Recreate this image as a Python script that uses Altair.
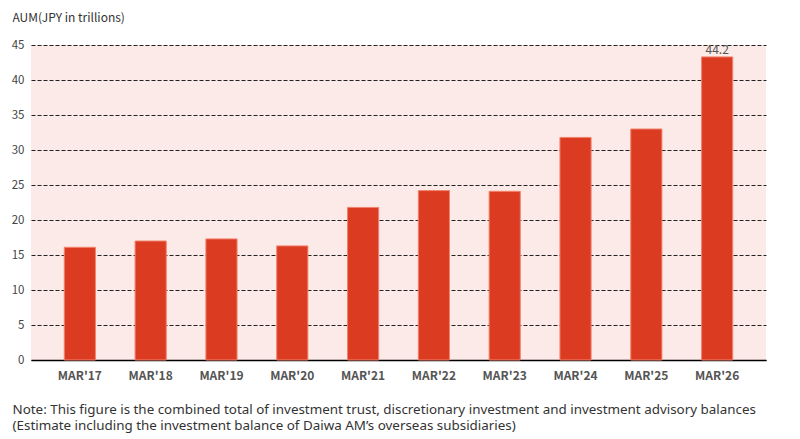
import altair as alt
import pandas as pd

categories = ["MAR'17", "MAR'18", "MAR'19", "MAR'20", "MAR'21", "MAR'22", "MAR'23", "MAR'24", "MAR'25", "MAR'26"]
values = [16.1, 17.0, 17.3, 16.3, 21.8, 24.2, 24.1, 31.8, 33.0, 43.3]
labels = ["", "", "", "", "", "", "", "", "", "44.2"]
y_ticks = [0, 5, 10, 15, 20, 25, 30, 35, 40, 45]

y_title = "AUM(JPY in trillions)"
footnote = [
    "Note: This figure is the combined total of investment trust, discretionary investment and investment advisory balances",
    "(Estimate including the investment balance of Daiwa AM\u2019s overseas subsidiaries)",
]

df = pd.DataFrame({"cat": categories, "value": values, "label": labels})

FONT = "Noto Sans CJK JP"
NOTE_FONT = "Noto Sans"

xscale = alt.Scale(paddingInner=0.56, paddingOuter=0.47)
yscale = alt.Scale(domain=[0, 45], nice=False)

x = alt.X(
    "cat:N",
    sort=categories,
    scale=xscale,
    axis=alt.Axis(
        title=footnote,
        titleFont=NOTE_FONT,
        titleFontSize=13.4,
        titleFontWeight="normal",
        titleColor="#333333",
        titleAnchor="start",
        titleAlign="left",
        titleBaseline="alphabetic",
        titleX=-19,
        titleY=53,
        titleLineHeight=16.5,
        labelFont=FONT,
        labelFontSize=12,
        labelFontWeight="bold",
        labelColor="#555555",
        labelAngle=0,
        labelPadding=10,
        ticks=False,
        domainColor="#000000",
        domainWidth=1.5,
        grid=False,
    ),
)

y = alt.Y(
    "value:Q",
    scale=yscale,
    axis=alt.Axis(
        values=y_ticks,
        labelOverlap=False,
        title=y_title,
        titleFont=FONT,
        titleFontSize=12,
        titleFontWeight="normal",
        titleColor="#333333",
        titleAngle=0,
        titleAlign="left",
        titleBaseline="alphabetic",
        titleX=-19,
        titleY=-24,
        labelFont=FONT,
        labelFontSize=11.5,
        labelColor="#444444",
        labelPadding=7,
        ticks=False,
        domain=False,
        grid=True,
        gridColor="#222222",
        gridDash=[4, 2],
        gridWidth=1,
    ),
)

base = alt.Chart(df)

bars = base.mark_bar(color="#db3c21", stroke="#f2826f", strokeWidth=1).encode(x=x, y=y)

text = base.mark_text(
    baseline="alphabetic", dy=-3, font=FONT, fontSize=12, color="#555555"
).encode(x=x, y=y, text="label:N")

chart = (
    alt.layer(bars, text)
    .properties(
        width=735,
        height=315,
        padding={"left": 23, "top": 37, "right": 20, "bottom": 76},
        autosize="none",
        background="#ffffff",
    )
    .configure_view(fill="#fbeae7", stroke=None)
)

chart.save("out.html", embed_options={"renderer": "svg", "actions": False})
